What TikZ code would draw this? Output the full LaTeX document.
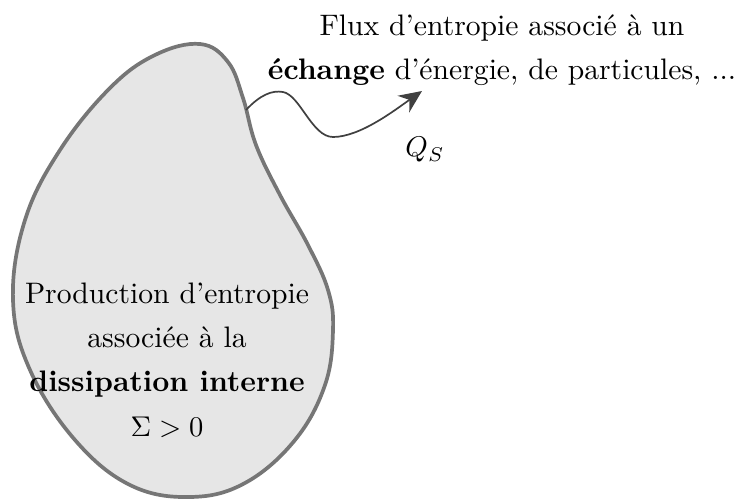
\documentclass[tikz,border=0pt]{standalone}
\usetikzlibrary{arrows.meta}
\definecolor{blobfill}{RGB}{230,230,230}
\definecolor{blobline}{RGB}{118,118,118}
\definecolor{arrowcol}{RGB}{64,64,64}
\begin{document}
\begin{tikzpicture}[x=0.01233cm,y=-0.01233cm,
  blob/.style={draw=blobline,fill=blobfill,line width=1.3pt},
  flow/.style={draw=arrowcol,line width=0.6pt,-{Stealth[length=2.8mm,width=2.5mm,inset=0.9mm]}},
  txt/.style={align=center,font=\fontsize{10.4}{15.6}\selectfont,inner sep=0pt}]
\useasboundingbox (0,0) rectangle (741,498);
\draw[blob] plot[smooth cycle,tension=0.65] coordinates {
  (200,44) (228,62) (243,98) (256,145) (280,195) (308,245) (328,290) (333,330)
  (325,385) (295,440) (245,483) (190,497) (130,485) (75,440) (30,370)
  (13,300) (25,220) (60,150) (110,88) (155,55)};
\coordinate (src) at (246,110);
\coordinate (tip) at (422,91);
\node[txt] (prod) at (167,360) {Production d'entropie\\associée à la\\\textbf{dissipation interne}\\$\Sigma>0$};
\node[txt] (flux) at (502,50) {Flux d'entropie associé à un\\\textbf{échange} d'énergie, de particules, ...};
\node[txt] (q) at (425,150) {$Q_S$};
\draw[flow] (src) .. controls (260,95) and (272,90) .. (283,92)
  .. controls (300,95) and (312,137) .. (333,137)
  .. controls (360,137) and (395,110) .. (tip);
\end{tikzpicture}
\end{document}
